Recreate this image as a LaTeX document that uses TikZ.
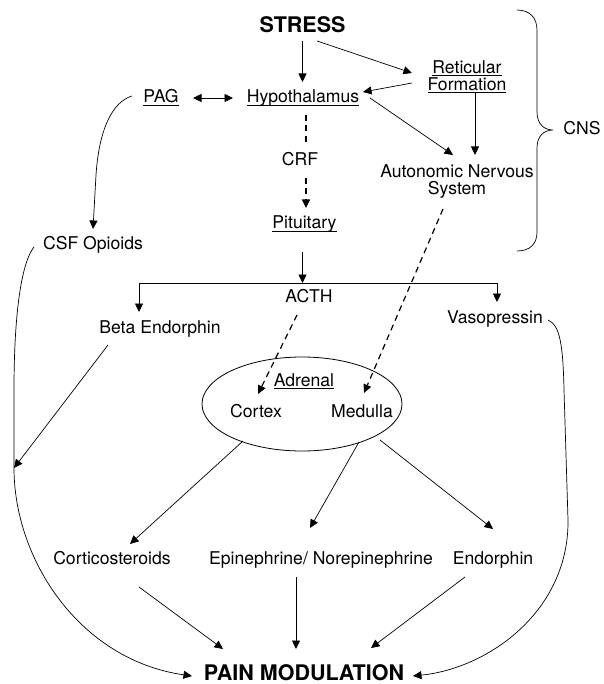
\documentclass[tikz,border=0pt]{standalone}
\usepackage{fontspec}
\setmainfont{TeX Gyre Heros}
\usetikzlibrary{arrows.meta,calc,shapes.geometric}
% underline at a fixed depth below the baseline
\newcommand\ulin[1]{\setbox0\hbox{#1}\rlap{\rule[-2.6pt]{\wd0}{0.9pt}}\box0}

\begin{document}
\begin{tikzpicture}[x=1pt,y=-1pt,
  lbl/.style={anchor=base,inner sep=0pt,font=\fontsize{17.6}{17}\selectfont},
  lbltwo/.style={anchor=north,inner sep=0pt,align=center,font=\fontsize{17.6}{17}\selectfont},
  big/.style={anchor=base,inner sep=0pt,font=\fontsize{21.5}{24}\selectfont\bfseries},
  tip/.tip={Triangle[length=8.5pt,width=8pt]},
  link/.style={line width=0.7pt,-tip},
  plain/.style={line width=0.7pt},
  dlink/.style={line width=1.2pt,dash pattern=on 6pt off 4.5pt,-tip},
  dplain/.style={line width=1.2pt,dash pattern=on 6pt off 4.5pt},
  both/.style={line width=0.7pt,tip-tip},
]
\useasboundingbox (0,0) rectangle (603,684);

% ---- nodes ----
\node[big]  (stress) at (302.5,33) {STRESS};
\node[lbltwo] (ret) at (467,60) {\ulin{Reticular}\\\ulin{Formation}};
\node[lbl]  (pag) at (161,103) {\ulin{PAG}};
\node[lbl]  (hyp) at (303,103) {\ulin{Hypothalamus}};
\node[lbl]  (crf) at (300,166) {CRF};
\node[lbl]  (pit) at (304.5,229) {\ulin{Pituitary}};
\node[lbltwo] (ans) at (457,164.4) {Autonomic Nervous\\System};
\node[lbl]  (cns) at (582,135) {CNS};
\node[lbl]  (csf) at (93,250) {CSF Opioids};
\node[lbl]  (acth) at (309,302) {ACTH};
\node[lbl]  (beta) at (160,333) {Beta Endorphin};
\node[lbl]  (vaso) at (495,323) {Vasopressin};
\node[draw,ellipse,line width=0.8pt,minimum width=200pt,minimum height=94pt,inner sep=0pt] (gland) at (302,404) {};
\node[lbl]  (adr) at (304,386) {\ulin{Adrenal}};
\node[lbl]  (cortex) at (256,417) {Cortex};
\node[lbl]  (medulla) at (362,417) {Medulla};
\node[lbl]  (cortico) at (112,564) {Corticosteroids};
\node[lbl]  (epi) at (321,564) {Epinephrine/ Norepinephrine};
\node[lbl]  (endo) at (493,564) {Endorphin};
\node[big]  (pain) at (304,680) {PAIN MODULATION};

% branch points of the ACTH bar and the left-hand curve
\coordinate (bar) at (302.5,283);
\coordinate (barL) at (139,283);
\coordinate (barR) at (497,283);
\coordinate (lmeet) at (14,468);

% ---- upper connectors ----
\draw[link] ($(stress.base)+(0,8)$) -- ($(hyp.base)+(-0.5,-21)$);
\draw[link] ($(stress.base)+(14.5,8)$) -- ($(ret.north)+(-55,13)$);
\draw[link] ($(ret.north)+(-55,23)$) -- ($(hyp.base)+(60,-11)$);
\draw[both] ($(pag.base)+(32,-5)$) -- ($(hyp.base)+(-70,-5)$);
\draw[link] ($(hyp.base)+(67,-5)$) -- ($(ans.north)+(-4,-9.4)$);
\draw[link] ($(ret.north)+(8,33)$) -- ($(ans.north)+(18,-9.4)$);
\draw[dplain] ($(hyp.base)+(3,12)$) -- ($(crf.base)+(6,-20)$);
\draw[dlink] ($(crf.base)+(6,12)$) -- ($(pit.base)+(1.5,-21)$);

% PAG to CSF opioids
\draw[link] ($(pag.base)+(-29,-7)$) .. controls (112,102) and (99,130) .. (96,175) -- ($(csf.base)+(0,-21)$);

% pituitary branches
\draw[link] ($(pit.base)+(-2,23)$) -- (bar);
\draw[plain] (barL) -- (barR);
\draw[link] (barL) -- ($(beta.base)+(-21,-21)$);
\draw[link] (barR) -- ($(vaso.base)+(2,-21)$);

% dashed paths into the adrenal gland
\draw[dlink] ($(acth.base)+(-12,13)$) -- ($(cortex.base)+(2,-23)$);
\draw[dlink] ($(ans.north)+(-14,44.6)$) -- ($(medulla.base)+(2,-24)$);

% adrenal outputs
\draw[link] ($(cortex.base)+(-13,24)$) -- ($(cortico.base)+(18,-20)$);
\draw[link] ($(medulla.base)+(-3,25)$) -- ($(epi.base)+(-11,-36)$);
\draw[link] ($(medulla.base)+(18,23)$) -- ($(endo.base)+(0,-35)$);

% into pain modulation
\draw[link] ($(cortico.base)+(27,23)$) -- ($(pain.base)+(-81,-31)$);
\draw[link] ($(epi.base)+(-25,13)$) -- ($(pain.base)+(-8,-31)$);
\draw[link] ($(endo.base)+(-28,13)$) -- ($(pain.base)+(67,-32)$);

% long side curves
\draw[link] ($(csf.base)+(-59,-3)$) .. controls (22,262) and (14,310) .. (14,390)
  -- (lmeet) .. controls (14,560) and (80,660) .. ($(pain.base)+(-112,-4)$);
\draw[link] ($(beta.base)+(-52,12)$) -- (lmeet);
\draw[link] ($(vaso.base)+(53,-3)$) .. controls (560,325) and (563,345) .. (564,390)
  -- (568,520) .. controls (569,610) and (490,668) .. ($(pain.base)+(109,-4)$);

% brace grouping the central nervous system
\draw[line width=0.7pt] (517,10) .. controls (530,10) and (537,18) .. (537,30) -- (537,112)
  .. controls (537,124) and (544,130) .. (553,130)
  .. controls (544,130) and (537,136) .. (537,148) -- (537,232)
  .. controls (537,244) and (530,251) .. (517,251);
\end{tikzpicture}
\end{document}
